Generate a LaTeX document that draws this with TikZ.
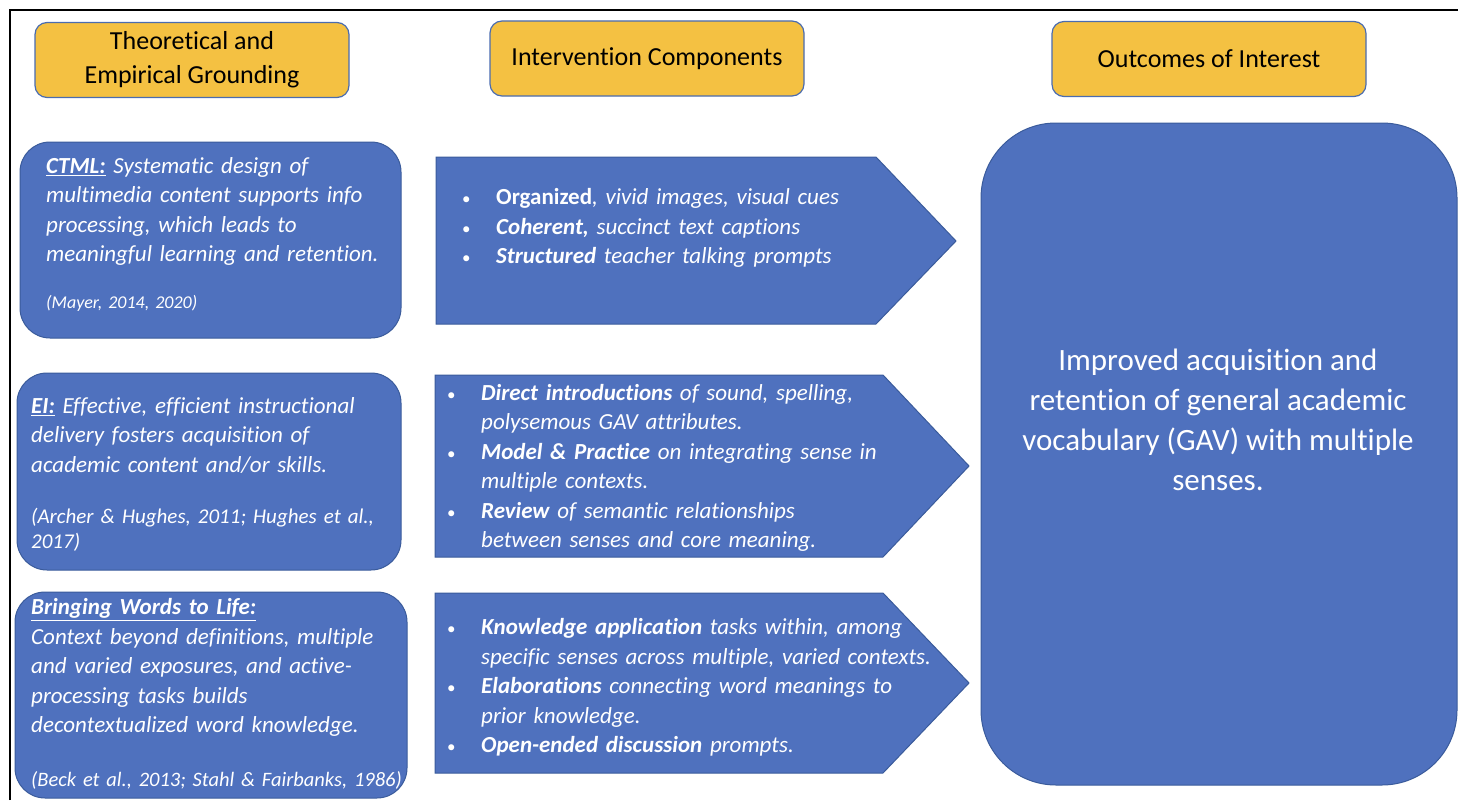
\documentclass[tikz,border=0pt]{standalone}
\usepackage{fontspec}
\setmainfont{Carlito}[Ligatures=NoCommon]

\definecolor{gvblue}{HTML}{4F71BE}
\definecolor{gvedge}{HTML}{3A5B9B}
\definecolor{gvgold}{HTML}{F4C142}
\definecolor{gvrim}{HTML}{4A6CB0}

\newcommand\gvbullet{\makebox[34pt][l]{\upshape\fontsize{17}{17}\selectfont\textbullet}}
\newcommand\gvhang{\hspace*{34pt}}

\tikzset{
  header/.style={draw=gvrim, line width=1.2pt, fill=gvgold,
    rounded corners=12pt, minimum width=314pt, minimum height=75pt,
    align=center, font=\fontsize{26}{34}\selectfont},
  panel/.style={draw=gvedge, line width=1pt, fill=gvblue,
    rounded corners=30pt},
  pointer/.style={draw=gvedge, line width=1pt, fill=gvblue},
  bodytext/.style={inner sep=0pt, text=white, align=left, anchor=west,
    text width=#1, font=\fontsize{23}{29.5}\selectfont\itshape},
  reftext/.style={inner sep=0pt, text=white, align=left, anchor=west,
    text width=400pt, font=\fontsize{#1}{25}\selectfont\itshape}
}

\begin{document}
\begin{tikzpicture}[x=1pt, y=-1pt]
  \useasboundingbox (0,0) rectangle (1458,800);
  \draw[line width=1.8pt] (10,800) -- (10,10) -- (1458,10);

  % column headings
  \node[header] (grounding) at (192,60)
    {Theoretical and\\Empirical Grounding};
  \node[header] (components) at (647,58.5) {Intervention Components};
  \node[header] (outcomes) at (1209,59) {Outcomes of Interest};

  % grounding panels
  \node[panel, minimum width=381pt, minimum height=196pt] (ctml) at (210.5,240) {};
  \node[panel, minimum width=384pt, minimum height=197pt] (ei) at (209,471.5) {};
  \node[panel, minimum width=392pt, minimum height=206pt] (bwl) at (211,695) {};

  \node[bodytext=360pt] (ctmltext) at (46,211.5)
    {\underline{\textbf{CTML:}} Systematic design of\\
     multimedia content supports info\\
     processing, which leads to\\
     meaningful learning and retention.};
  \node[reftext=18] (ctmlref) at (46,303) {(Mayer, 2014, 2020)};

  \node[bodytext=370pt] (eitext) at (31,435.5)
    {\underline{\textbf{EI:}} Effective, efficient instructional\\
     delivery fosters acquisition of\\
     academic content and/or skills.};
  \node[reftext=21] (eiref) at (31,529.5)
    {(Archer \& Hughes, 2011; Hughes et al.,\\2017)};

  \node[bodytext=375pt] (bwltext) at (31,667.5)
    {\underline{\textbf{Bringing Words to Life:}}\\
     Context beyond definitions, multiple\\
     and varied exposures, and active-\\
     processing tasks builds\\
     decontextualized word knowledge.};
  \node[reftext=20.5] (bwlref) at (31,780)
    {(Beck et al., 2013; Stahl \& Fairbanks, 1986)};

  % component arrows
  \draw[pointer] (436,157) -- (876,157) -- (956,241) -- (876,324) -- (436,324) -- cycle;
  \draw[pointer] (435,375) -- (883,375) -- (969,466) -- (883,557) -- (435,557) -- cycle;
  \draw[pointer] (435,593) -- (883,593) -- (969,683) -- (883,773) -- (435,773) -- cycle;

  \node[bodytext=480pt] (mediatext) at (462,228)
    {\gvbullet\textbf{\upshape Organized}, vivid images, visual cues\\
     \gvbullet\textbf{Coherent,} succinct text captions\\
     \gvbullet\textbf{Structured} teacher talking prompts};

  \node[bodytext=500pt] (deliverytext) at (447,468)
    {\gvbullet\textbf{Direct introductions} of sound, spelling,\\
     \gvhang polysemous GAV attributes.\\
     \gvbullet\textbf{Model \& Practice} on integrating sense in\\
     \gvhang multiple contexts.\\
     \gvbullet\textbf{Review} of semantic relationships\\
     \gvhang between senses and core meaning.};

  \node[bodytext=520pt] (practicetext) at (447,687.5)
    {\gvbullet\textbf{Knowledge application} tasks within, among\\
     \gvhang specific senses across multiple, varied contexts.\\
     \gvbullet\textbf{Elaborations} connecting word meanings to\\
     \gvhang prior knowledge.\\
     \gvbullet\textbf{Open-ended discussion} prompts.};

  % outcome panel
  \node[panel, rounded corners=75pt, minimum width=476pt, minimum height=662pt]
    (gav) at (1219,454) {};
  \node[inner sep=0pt, text=white, align=center,
    font=\fontsize{31}{40}\selectfont] (gavtext) at (1218,420)
    {Improved acquisition and\\
     retention of general academic\\
     vocabulary (GAV) with multiple\\
     senses.};
\end{tikzpicture}
\end{document}
